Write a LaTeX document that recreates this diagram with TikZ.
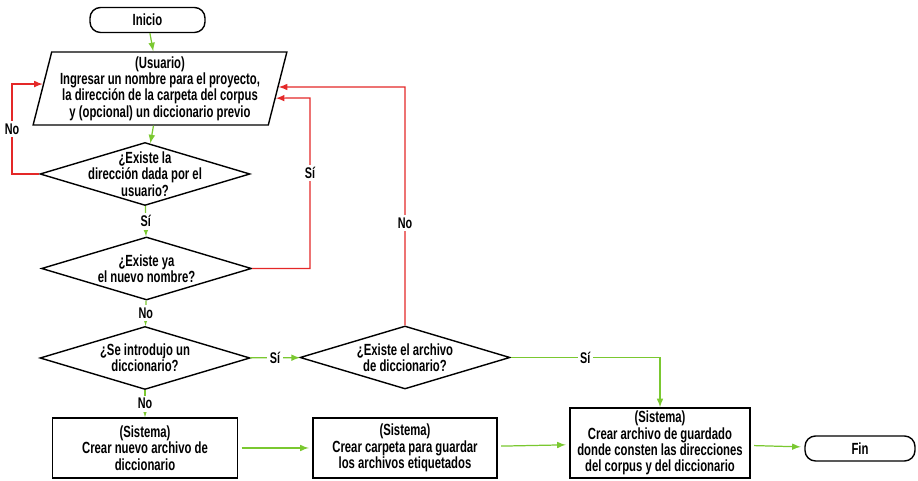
\documentclass[tikz,border=0pt]{standalone}
\usepackage{fontspec}
\setmainfont{Liberation Sans}[FakeStretch=0.70]
\usepackage{tikz}
\tikzset{
	>=latex
}
\usetikzlibrary{arrows.meta}
\usetikzlibrary{calc}
\usetikzlibrary{shapes.geometric}
\definecolor{siverde}{RGB}{122,200,48}
\definecolor{norojo}{RGB}{228,40,40}
\tikzset{
	texto/.style={align=center, inner sep=0pt, font=\fontsize{9.2}{9.3}\selectfont\bfseries},
	base/.style={draw, line width=0.8pt, texto},
	inicio/.style={base, rounded corners=6pt, minimum width=2.3cm, minimum height=0.5cm},
	entrada/.style={base, trapezium, trapezium left angle=75, trapezium right angle=105,
		trapezium stretches=true, minimum width=5.08cm, minimum height=1.46cm},
	pregunta/.style={draw, line width=0.8pt, diamond, inner sep=0pt, shape aspect=3.3,
		minimum width=4.2cm, minimum height=1.26cm},
	proceso/.style={base, minimum width=3.7cm, minimum height=1.2cm},
	flechasi/.style={->, siverde, line width=0.7pt},
	flechano/.style={->, norojo, line width=0.7pt},
	etiqueta/.style={fill=white, inner sep=1.5pt, text=black,
		font=\fontsize{8.8}{9}\selectfont\bfseries}
}

\begin{document}
\begin{tikzpicture}
	%\draw[help lines] (0,0) grid (18,9);
	\useasboundingbox (0,0) rectangle (18.36,9.62);

	% columna izquierda
	\node[inicio] (ini) at (2.95,9.22) {Inicio};
	\node[entrada] (usr) at (3.2,7.85) {(Usuario)\\Ingresar un nombre para el proyecto,\\la dirección de la carpeta del corpus\\y (opcional) un diccionario previo};
	\node[pregunta, label={[texto]center:¿Existe la\\dirección dada por el\\usuario?}] (dir) at (2.9,6.14) {};
	\node[pregunta, label={[texto]center:¿Existe ya\\el nuevo nombre?}] (nom) at (2.93,4.25) {};
	\node[pregunta, label={[texto]center:¿Se introdujo un\\diccionario?}] (dic) at (2.9,2.46) {};
	\node[proceso] (nuevo) at (2.9,0.66) {(Sistema)\\Crear nuevo archivo de\\diccionario};

	% columna central y derecha
	\node[pregunta, label={[texto]center:¿Existe el archivo\\de diccionario?}] (arch) at (8.1,2.47) {};
	\node[proceso, minimum width=3.68cm] (carp) at (8.1,0.66) {(Sistema)\\Crear carpeta para guardar\\los archivos etiquetados};
	\node[proceso, minimum width=3.6cm, minimum height=1.4cm] (guard) at (13.2,0.76) {(Sistema)\\Crear archivo de guardado\\donde consten las direcciones\\del corpus y del diccionario};
	\node[inicio, minimum width=2.2cm] (fin) at (17.2,0.65) {Fin};

	% flujo principal
	\draw[flechasi] (ini) -- (usr);
	\draw[flechasi] (usr) -- (dir);
	\draw[flechasi] (dir) -- node[etiqueta]{Sí} (nom);
	\draw[flechasi] (nom) -- node[etiqueta]{No} (dic);
	\draw[flechasi] (dic) -- node[etiqueta]{No} (nuevo);
	\draw[flechasi] (dic) -- node[etiqueta]{Sí} (arch);
	\draw[flechasi] (arch.east) -| node[etiqueta, pos=0.25]{Sí} (guard.north);
	\draw[flechasi, shorten <=2pt, shorten >=2pt] (nuevo) -- (carp);
	\draw[flechasi, shorten <=2pt, shorten >=2pt] (carp) -- (guard);
	\draw[flechasi, shorten <=2pt, shorten >=2pt] (guard) -- (fin);

	% retornos
	\coordinate (izq) at ($(usr.bottom left corner)!0.56!(usr.top left corner)$);
	\coordinate (der1) at ($(usr.bottom right corner)!0.37!(usr.top right corner)$);
	\coordinate (der2) at ($(usr.bottom right corner)!0.52!(usr.top right corner)$);
	\draw[flechano] (dir.west) -- (0.24,6.14) node[etiqueta, pos=1, yshift=0.9cm]{No} |- (izq);
	\draw[flechano] (nom.east) -| node[etiqueta, pos=0.78]{Sí} (6.2,7.66) -- (der1);
	\draw[flechano] (arch.north) -- node[etiqueta, pos=0.43]{No} (8.1,7.88) -- (der2);

\end{tikzpicture}
\end{document}
